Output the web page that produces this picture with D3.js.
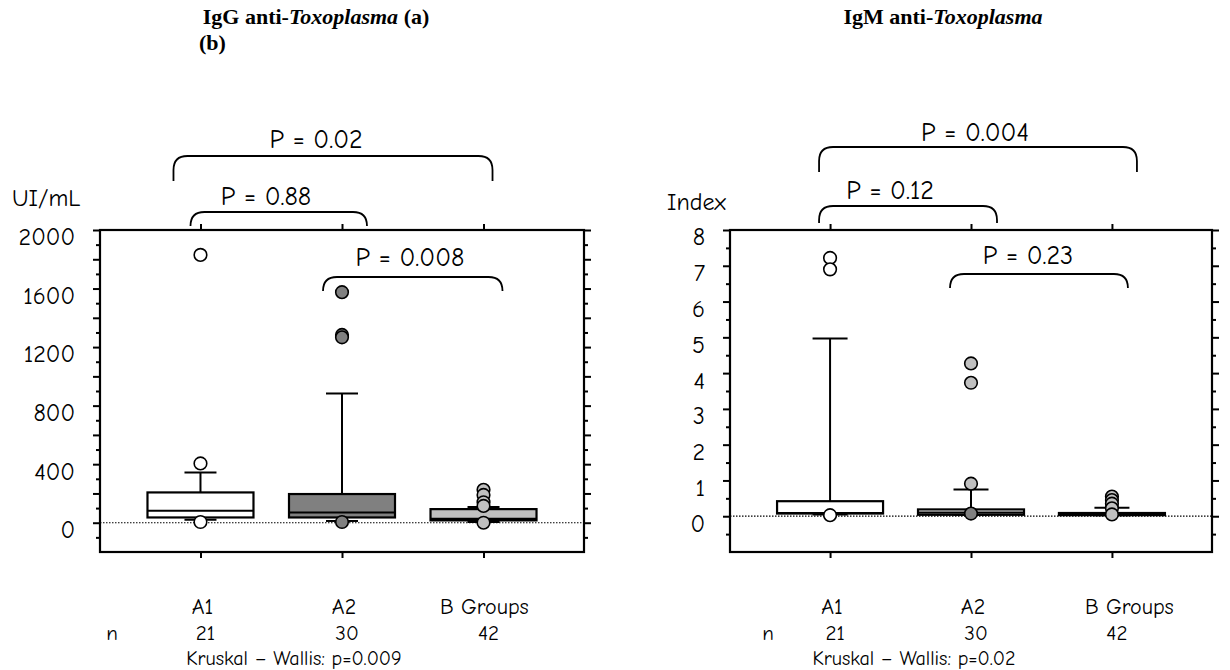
<!DOCTYPE html>
<html><head><meta charset="utf-8">
<script src="https://cdn.jsdelivr.net/npm/d3@7"></script>
<style>
body{margin:0;background:#fff;}
svg text{font-family:"Comic Sans MS","Comic Neue","DejaVu Sans",sans-serif;fill:#000;}
svg text.title{font-family:"Liberation Serif","Times New Roman",serif;font-weight:bold;}
</style></head><body>
<svg id="c" width="1230" height="670"></svg>
<script>
// ---------- data ----------
const groups = ["A1", "A2", "B"];
const groupLabels = ["A1", "A2", "B Groups"];
const nCounts = [21, 30, 42];

// IgG anti-Toxoplasma (UI/mL)
const iggQ1 = [36, 36, 16];
const iggMedian = [82, 70, 27];
const iggQ3 = [207, 196, 93];
const iggLow = [20, 12, 5];
const iggHigh = [343, 883, 107];
const iggOutliers = [[1830, 405, 5], [1575, 1283, 1267, 5], [225, 190, 140, 115, 0]];
const iggPairs = [[0, 2], [0, 1], [1, 2]];
const iggPLabels = ["P = 0.02", "P = 0.88", "P = 0.008"];
const iggTicks = [0, 400, 800, 1200, 1600, 2000];
const iggKW = "Kruskal \u2013 Wallis: p=0.009";

// IgM anti-Toxoplasma (Index)
const igmQ1 = [0.075, 0.04, 0.03];
const igmMedian = [0.09, 0.1, 0.06];
const igmQ3 = [0.42, 0.19, 0.09];
const igmLow = [0.05, 0.04, 0.03];
const igmHigh = [4.97, 0.75, 0.24];
const igmOutliers = [[7.22, 6.9, 0.03], [4.27, 3.73, 0.91, 0.075], [0.55, 0.45, 0.35, 0.22, 0.05]];
const igmPairs = [[0, 2], [0, 1], [1, 2]];
const igmPLabels = ["P = 0.004", "P = 0.12", "P = 0.23"];
const igmTicks = [0, 1, 2, 3, 4, 5, 6, 7, 8];
const igmKW = "Kruskal \u2013 Wallis: p=0.02";

// ---------- drawing ----------
const svg = d3.select("#c");

const panels = [
  {
    q1: iggQ1, med: iggMedian, q3: iggQ3, lo: iggLow, hi: iggHigh, out: iggOutliers,
    pairs: iggPairs, pl: iggPLabels, ticks: iggTicks, kw: iggKW, unit: "UI/mL",
    x0: 100, x1: 584, yTop: 230, yBot: 552, domain: [-200, 2000], step: 100,
    boxFill: ["#ffffff", "#808080", "#c0c0c0"],
    outFill: (g, v, i) => ["#ffffff", "#808080", "#c0c0c0"][g],
    capW: 32,
    brace: [
      {dx1: -27, dx2: 9, top: 156, end: 181, tx: 316, ty: 148},
      {dx1: -10, dx2: 25, top: 212, end: 226, tx: 266, ty: 205},
      {dx1: -19, dx2: 19, top: 277, end: 291, tx: 410, ty: 266}
    ],
    unitX: 12, unitY: 206,
    labX: [null, null, 440], nX: 112, kwX: 294
  },
  {
    q1: igmQ1, med: igmMedian, q3: igmQ3, lo: igmLow, hi: igmHigh, out: igmOutliers,
    pairs: igmPairs, pl: igmPLabels, ticks: igmTicks, kw: igmKW, unit: "Index",
    x0: 730, x1: 1212, yTop: 230, yBot: 552, domain: [-1, 8], step: 0.5,
    boxFill: ["#ffffff", "#ffffff", "#ffffff"],
    outFill: (g, v, i) => g === 0 ? "#ffffff" : (g === 1 && v < 0.2 ? "#808080" : "#c0c0c0"),
    capW: 35,
    brace: [
      {dx1: -11, dx2: 25, top: 147, end: 172, tx: 975, ty: 141},
      {dx1: -11, dx2: 26, top: 206, end: 223, tx: 890, ty: 199},
      {dx1: -21, dx2: 16, top: 274, end: 288, tx: 1028, ty: 264}
    ],
    unitX: 667, unitY: 210,
    labX: [null, null, 1085], nX: 768, kwX: 914
  }
];

function bracePath(x1, x2, top, end) {
  const r = Math.min(14, end - top);
  return `M${x1},${end} L${x1},${top + r} Q${x1},${top} ${x1 + r},${top} L${x2 - r},${top} Q${x2},${top} ${x2},${top + r} L${x2},${end}`;
}

panels.forEach(p => {
  const g = svg.append("g");
  const x = d3.scalePoint().domain(groups).range([p.x0, p.x1]).padding(0.71);
  const y = d3.scaleLinear().domain(p.domain).range([p.yBot, p.yTop]);

  const allTicks = d3.range(p.domain[0] + p.step, p.domain[1] + p.step / 2, p.step).map(v => +v.toFixed(3));
  const isMajor = v => Math.abs(v / (2 * p.step) - Math.round(v / (2 * p.step))) < 1e-6;
  const major = allTicks.filter(isMajor);
  const minor = allTicks.filter(v => !isMajor(v));

  g.append("line").attr("x1", p.x0).attr("x2", p.x1).attr("y1", y(0)).attr("y2", y(0))
    .attr("stroke", "#000").attr("stroke-width", 1.2).attr("stroke-dasharray", "1.5,1.5");

  const styleAxis = sel => { sel.select(".domain").remove(); sel.selectAll("line").attr("stroke", "#000").attr("stroke-width", 2); };
  g.append("g").attr("transform", `translate(${p.x0},0)`)
    .call(d3.axisLeft(y).tickValues(major).tickSize(7).tickFormat(""))
    .call(styleAxis);
  g.append("g").attr("transform", `translate(${p.x0},0)`)
    .call(d3.axisLeft(y).tickValues(minor).tickSize(4).tickFormat(""))
    .call(styleAxis);
  g.append("g").attr("transform", `translate(${p.x1},0)`)
    .call(d3.axisRight(y).tickValues(major).tickSize(7).tickFormat(""))
    .call(styleAxis);
  g.append("g").attr("transform", `translate(${p.x1},0)`)
    .call(d3.axisRight(y).tickValues(minor).tickSize(4).tickFormat(""))
    .call(styleAxis);
  const lab = g.append("g").attr("transform", `translate(${p.x0},0)`)
    .call(d3.axisLeft(y).tickValues(p.ticks).tickSize(0).tickPadding(25).tickFormat(d3.format("d")))
    .call(styleAxis);
  lab.selectAll("text").attr("font-size", 24).attr("dy", "0.62em")
    .style("font-family", '"Comic Sans MS","Comic Neue","DejaVu Sans",sans-serif');

  g.append("g").attr("transform", `translate(0,${p.yTop})`)
    .call(d3.axisTop(x).tickSize(6).tickFormat("")).call(styleAxis);
  g.append("g").attr("transform", `translate(0,${p.yBot})`)
    .call(d3.axisBottom(x).tickSize(6).tickFormat("")).call(styleAxis);

  g.append("rect").attr("x", p.x0).attr("y", p.yTop).attr("width", p.x1 - p.x0).attr("height", p.yBot - p.yTop)
    .attr("fill", "none").attr("stroke", "#000").attr("stroke-width", 2.2);

  const bw = 106;
  groups.forEach((grp, i) => {
    const cx = x(grp);
    const bg = g.append("g");
    bg.append("line").attr("x1", cx).attr("x2", cx).attr("y1", y(p.q3[i])).attr("y2", y(p.hi[i])).attr("stroke", "#000").attr("stroke-width", 2);
    bg.append("line").attr("x1", cx - p.capW / 2).attr("x2", cx + p.capW / 2).attr("y1", y(p.hi[i])).attr("y2", y(p.hi[i])).attr("stroke", "#000").attr("stroke-width", 2);
    bg.append("line").attr("x1", cx).attr("x2", cx).attr("y1", y(p.q1[i])).attr("y2", y(p.lo[i])).attr("stroke", "#000").attr("stroke-width", 2);
    bg.append("line").attr("x1", cx - p.capW / 2).attr("x2", cx + p.capW / 2).attr("y1", y(p.lo[i])).attr("y2", y(p.lo[i])).attr("stroke", "#000").attr("stroke-width", 2);
    bg.append("rect").attr("x", cx - bw / 2).attr("width", bw)
      .attr("y", y(p.q3[i])).attr("height", Math.max(0.5, y(p.q1[i]) - y(p.q3[i])))
      .attr("fill", p.boxFill[i]).attr("stroke", "#000").attr("stroke-width", 2.2);
    bg.append("line").attr("x1", cx - bw / 2).attr("x2", cx + bw / 2).attr("y1", y(p.med[i])).attr("y2", y(p.med[i])).attr("stroke", "#000").attr("stroke-width", 2.2);
    bg.selectAll("circle").data(p.out[i]).join("circle")
      .attr("cx", cx).attr("cy", d => y(d)).attr("r", 6.3)
      .attr("fill", (d, k) => p.outFill(i, d, k)).attr("stroke", "#000").attr("stroke-width", 1.6);
  });

  p.pairs.forEach((pr, k) => {
    const b = p.brace[k];
    g.append("path").attr("d", bracePath(x(groups[pr[0]]) + b.dx1, x(groups[pr[1]]) + b.dx2, b.top, b.end))
      .attr("fill", "none").attr("stroke", "#000").attr("stroke-width", 1.8);
    g.append("text").attr("x", b.tx).attr("y", b.ty).attr("text-anchor", "middle").attr("font-size", 26).text(p.pl[k]);
  });

  g.append("text").attr("x", p.unitX).attr("y", p.unitY).attr("font-size", 24).text(p.unit);

  groups.forEach((grp, i) => {
    const t = g.append("text").attr("y", 614).attr("font-size", 22).text(groupLabels[i]);
    if (p.labX[i] != null) t.attr("x", p.labX[i]); else t.attr("x", x(grp) + 2).attr("text-anchor", "middle");
    g.append("text").attr("x", x(grp) + 5).attr("y", 640).attr("text-anchor", "middle").attr("font-size", 21).text(nCounts[i]);
  });
  g.append("text").attr("x", p.nX).attr("y", 640).attr("text-anchor", "middle").attr("font-size", 21).text("n");
  g.append("text").attr("x", p.kwX).attr("y", 665).attr("text-anchor", "middle").attr("font-size", 20).text(p.kw);
});

const t1 = svg.append("text").attr("class", "title").attr("x", 316).attr("y", 24).attr("text-anchor", "middle").attr("font-size", 22);
t1.append("tspan").text("IgG anti-");
t1.append("tspan").attr("font-style", "italic").text("Toxoplasma");
t1.append("tspan").text(" (a)");
svg.append("text").attr("class", "title").attr("x", 199).attr("y", 50).attr("font-size", 22).text("(b)");
const t2 = svg.append("text").attr("class", "title").attr("x", 943).attr("y", 24).attr("text-anchor", "middle").attr("font-size", 22);
t2.append("tspan").text("IgM anti-");
t2.append("tspan").attr("font-style", "italic").text("Toxoplasma");
</script>
</body></html>
